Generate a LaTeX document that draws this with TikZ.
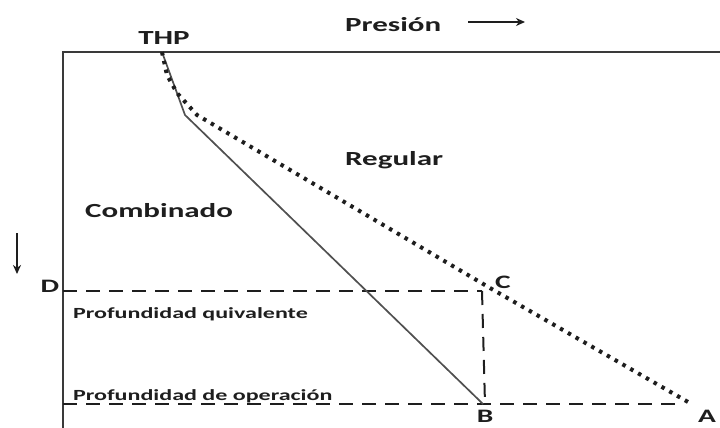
\documentclass[tikz,border=0pt]{standalone}
\usepackage{fontspec}
\setmainfont{Carlito}[FakeStretch=1.55]
\usetikzlibrary{arrows.meta}
\definecolor{ink}{HTML}{1E1E1E}
\definecolor{framecol}{HTML}{3A3A3A}
\definecolor{curvecol}{HTML}{505050}
\begin{document}
\begin{tikzpicture}[x=1pt,y=-1pt,
  lbl/.style={inner sep=0pt, text=ink, font=\bfseries\fontsize{20}{22}\selectfont},
  ptlbl/.style={inner sep=0pt, text=ink, font=\bfseries\fontsize{19}{21}\selectfont, anchor=base},
  smalllbl/.style={inner sep=0pt, text=ink, font=\bfseries\fontsize{15.5}{17}\selectfont, anchor=base west},
  framestyle/.style={draw=framecol, line width=2.2pt},
  dashline/.style={draw=ink, line width=2pt, dash pattern=on 14pt off 9pt},
  dotline/.style={draw=ink, line width=4pt, dash pattern=on 3.5pt off 5.5pt},
  solidline/.style={draw=curvecol, line width=1.7pt},
  arr/.style={draw=ink, line width=2pt, -{Stealth[length=9pt,width=8pt]}}
]
\useasboundingbox (0,0) rectangle (720,428);
% frame
\coordinate (fr) at (720,52);
\coordinate (fc) at (63,52);
\coordinate (fb) at (63,428);
\draw[framestyle] (fr) -- (fc) -- (fb);
% key points
\coordinate (thp) at (162,52);
\coordinate (k1) at (185,115);
\coordinate (Bp) at (483,404);
\coordinate (Cp) at (482,291);
\coordinate (Dp) at (63,291);
\coordinate (Ep) at (63,404);
\coordinate (Fp) at (680,404);
\coordinate (Bq) at (485,404);
\coordinate (d1) at (167,75);
\coordinate (d2) at (177,93);
\coordinate (d3) at (197,115);
\coordinate (dc) at (490,288);
\coordinate (Ap) at (688,402);
% dashed lines
\draw[dashline] (Dp) -- (Cp);
\draw[dashline] (Cp) -- (Bq);
\draw[dashline] (Ep) -- (Fp);
% solid curve
\draw[solidline] (thp) -- (k1) -- (Bp);
% dotted curve
\draw[dotline] (thp) -- (d1) -- (d2) -- (d3) -- (dc) -- (Ap);
% arrows
\coordinate (pa1) at (468,22);
\coordinate (pa2) at (525,22);
\draw[arr] (pa1) -- (pa2);
\coordinate (da1) at (17,233);
\coordinate (da2) at (17,274);
\draw[arr] (da1) -- (da2);
% labels
\node[lbl, anchor=base] (tTHP) at (164,45) {THP};
\node[lbl, anchor=base west] (tPres) at (345,32) {Presión};
\node[lbl, anchor=base west] (tReg) at (345,165) {Regular};
\node[lbl, anchor=base west] (tComb) at (85,217) {Combinado};
\node[ptlbl] (tD) at (50,292) {D};
\node[ptlbl] (tC) at (503,288) {C};
\node[ptlbl] (tB) at (485,422) {B};
\node[ptlbl] (tA) at (707,422) {A};
\node[smalllbl] (tPq) at (73,318) {Profundidad quivalente};
\node[smalllbl] (tPo) at (73,400) {Profundidad de operación};
\end{tikzpicture}
\end{document}
